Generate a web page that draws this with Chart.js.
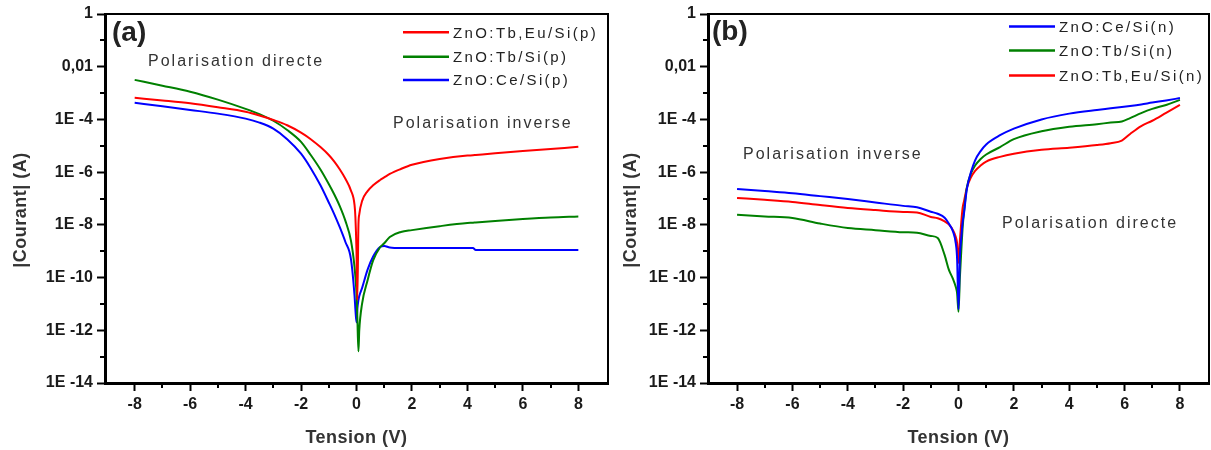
<!DOCTYPE html>
<html>
<head>
<meta charset="utf-8">
<script src="https://cdn.jsdelivr.net/npm/chart.js@4.4.1/dist/chart.umd.min.js"></script>
<style>
  body { margin: 0; background: #fff; width: 1211px; height: 450px; overflow: hidden; position: relative; }
  .box { position: absolute; top: 0; height: 450px; }
  #boxA { left: 0; width: 612px; }
  #boxB { left: 612px; width: 599px; }
</style>
</head>
<body>
<div class="box" id="boxA"><canvas id="chartA"></canvas></div>
<div class="box" id="boxB"><canvas id="chartB"></canvas></div>
<script>
"use strict";
// panel (a) : Si(p) substrates, tension in V
let voltA = [-8, -7, -6, -5, -4, -3.5, -3, -2.5, -2, -1.65, -1.3, -1, -0.8, -0.6, -0.4, -0.2, -0.07, -0.04, 0, 0.03, 0.07, 0.1, 0.2, 0.4, 0.6, 0.85, 1, 1.2, 1.6, 2, 3, 4, 4.2, 4.3, 5, 6, 7, 8];
// log10 |I| (A)
let tbEuA = [-3.18, -3.28, -3.39, -3.54, -3.71, -3.85, -4.02, -4.22, -4.5, -4.75, -5.05, -5.35, -5.6, -5.9, -6.25, -6.7, -7.25, -7.7, -9.0, -10.85, -8.0, -7.6, -7.1, -6.72, -6.5, -6.3, -6.2, -6.07, -5.88, -5.72, -5.5, -5.37, -5.36, -5.35, -5.28, -5.2, -5.12, -5.04];
let tbA = [-2.5, -2.72, -2.95, -3.25, -3.6, -3.8, -4.05, -4.4, -4.85, -5.35, -5.9, -6.45, -6.85, -7.3, -7.85, -8.6, -9.6, -9.98, -10.6, -11.5, -12.8, -12.0, -11.0, -10.1, -9.35, -8.85, -8.7, -8.46, -8.27, -8.2, -8.05, -7.93, -7.92, -7.91, -7.85, -7.78, -7.72, -7.68];
let ceA = [-3.37, -3.5, -3.64, -3.78, -3.97, -4.12, -4.35, -4.75, -5.3, -5.85, -6.5, -7.15, -7.6, -8.1, -8.65, -9.3, -10.7, -11.2, -11.7, -11.2, -10.85, -10.7, -10.4, -9.7, -9.2, -8.84, -8.8, -8.86, -8.88, -8.88, -8.88, -8.88, -8.88, -8.95, -8.95, -8.95, -8.95, -8.95];

// panel (b) : Si(n) substrates
let voltB = [-8, -7, -6, -5, -4, -3, -2, -1.5, -1, -0.75, -0.5, -0.35, -0.2, -0.1, -0.05, 0, 0.05, 0.1, 0.15, 0.2, 0.3, 0.45, 0.6, 0.8, 1, 1.5, 2, 3, 4, 5, 5.5, 5.9, 6.2, 6.6, 7, 7.5, 8];
let ceB = [-6.64, -6.72, -6.8, -6.91, -7.02, -7.15, -7.28, -7.33, -7.5, -7.58, -7.73, -7.95, -8.25, -8.69, -9.3, -11.2, -9.2, -8.5, -7.9, -7.55, -6.65, -6.0, -5.55, -5.2, -4.95, -4.6, -4.35, -4.0, -3.78, -3.64, -3.58, -3.53, -3.49, -3.43, -3.36, -3.28, -3.19];
let tbB = [-7.62, -7.68, -7.74, -7.95, -8.12, -8.2, -8.28, -8.3, -8.42, -8.5, -9.15, -9.7, -10.05, -10.35, -10.6, -11.3, -10.0, -9.0, -8.1, -7.5, -6.6, -6.05, -5.75, -5.5, -5.33, -5.05, -4.75, -4.45, -4.28, -4.18, -4.12, -4.08, -3.95, -3.76, -3.6, -3.45, -3.26];
let tbEuB = [-6.98, -7.05, -7.13, -7.25, -7.36, -7.44, -7.51, -7.53, -7.7, -7.75, -7.87, -7.98, -8.2, -8.45, -8.7, -9.45, -8.6, -7.9, -7.35, -7.1, -6.6, -6.2, -5.95, -5.75, -5.6, -5.42, -5.3, -5.15, -5.07, -4.97, -4.9, -4.8, -4.55, -4.25, -4.05, -3.75, -3.45];

let namesA = ["ZnO:Tb,Eu/Si(p)", "ZnO:Tb/Si(p)", "ZnO:Ce/Si(p)"];
let namesB = ["ZnO:Ce/Si(n)", "ZnO:Tb/Si(n)", "ZnO:Tb,Eu/Si(n)"];
let colorsA = ["#ff0000", "#008000", "#0000ff"];
let colorsB = ["#0000ff", "#008000", "#ff0000"];

// ticks
let xTicks = [-8, -6, -4, -2, 0, 2, 4, 6, 8];
let xMinor = [-7, -5, -3, -1, 1, 3, 5, 7];
let yTickExps = [0, -2, -4, -6, -8, -10, -12, -14];
let yTickLabels = ["1", "0,01", "1E -4", "1E -6", "1E -8", "1E -10", "1E -12", "1E -14"];
let yMinorExps = [-1, -3, -5, -7, -9, -11, -13];

let FAM = "'Liberation Sans', Arial, sans-serif";
let tickFont = { family: FAM, size: 16, weight: "bold" };

function drawText(ctx, txt, x, y, font, color, spacing, align) {
  ctx.save();
  ctx.font = font;
  ctx.fillStyle = color;
  ctx.letterSpacing = spacing + "px";
  ctx.textAlign = align || "left";
  ctx.textBaseline = "alphabetic";
  ctx.fillText(txt, x, y);
  ctx.restore();
}

//frame, minor ticks, legend, labels
let decorPlugin = {
  id: "decor",
  afterDraw(chart, args, opts) {
    let ctx = chart.ctx;
    let a = chart.chartArea;
    let sx = chart.scales.x;
    let sy = chart.scales.y;
    ctx.save();
    ctx.strokeStyle = "#000";
    ctx.lineWidth = 2;
    ctx.beginPath();
    ctx.moveTo(a.left, a.top);
    ctx.lineTo(a.right, a.top);
    ctx.lineTo(a.right, a.bottom + 1);
    ctx.stroke();
    ctx.beginPath();
    xMinor.forEach((v) => {
      let px = Math.round(sx.getPixelForValue(v));
      ctx.moveTo(px, a.bottom);
      ctx.lineTo(px, a.bottom + 5);
    });
    yMinorExps.forEach((e) => {
      let py = Math.round(sy.getPixelForValue(Math.pow(10, e)));
      ctx.moveTo(a.left - 5, py);
      ctx.lineTo(a.left, py);
    });
    ctx.stroke();
    ctx.restore();

    opts.texts.forEach((t) => drawText(ctx, t.t, t.x, t.y, t.font, t.color, t.sp));

    // legend
    let lg = opts.legend;
    chart.data.datasets.forEach((ds, i) => {
      let y = lg.ys[i];
      ctx.save();
      ctx.strokeStyle = ds.borderColor;
      ctx.lineWidth = 2.5;
      ctx.beginPath();
      ctx.moveTo(lg.x1, y);
      ctx.lineTo(lg.x2, y);
      ctx.stroke();
      ctx.restore();
      drawText(ctx, ds.label, lg.tx, y + 5.4, "15px " + FAM, "#222", 2.4);
    });

    // axis titles
    let cx = (a.left + a.right) / 2;
    drawText(ctx, "Tension (V)", cx, 443, "bold 18px " + FAM, "#333", 0.5, "center");
    ctx.save();
    ctx.translate(opts.yTitleX, 210);
    ctx.rotate(-Math.PI / 2);
    drawText(ctx, "|Courant| (A)", 0, 6, "bold 18px " + FAM, "#333", 0.5, "center");
    ctx.restore();
  },
};

function buildChart(canvasId, volts, logSeries, names, colors, xMax, yWidth, padRight, decor) {
  let datasets = logSeries.map((logs, i) => ({
    label: names[i],
    data: volts.map((v, k) => ({ x: v, y: Math.pow(10, logs[k]) })),
    borderColor: colors[i],
    borderWidth: 2,
    pointRadius: 0,
    fill: false,
    cubicInterpolationMode: "monotone",
  }));
  return new Chart(document.getElementById(canvasId), {
    type: "line",
    data: { datasets: datasets },
    options: {
      responsive: true,
      maintainAspectRatio: false,
      animation: false,
      layout: { padding: { left: 0, right: padRight, top: 14, bottom: 0 } },
      plugins: {
        legend: { display: false },
        tooltip: { enabled: false },
        decor: decor,
      },
      scales: {
        x: {
          type: "linear",
          min: -xMax,
          max: xMax,
          afterBuildTicks: (s) => {
            s.ticks = xTicks.map((v) => ({ value: v }));
          },
          afterFit: (s) => {
            s.height = 67;
          },
          ticks: {
            autoSkip: false,
            maxRotation: 0,
            padding: 4,
            color: "#1a1a1a",
            font: tickFont,
            callback: (v) => String(v),
          },
          grid: { drawOnChartArea: false, drawTicks: true, tickLength: 8, tickWidth: 2, tickColor: "#000" },
          border: { display: true, color: "#000", width: 3 },
        },
        y: {
          type: "logarithmic",
          min: 1e-14,
          max: 1,
          afterBuildTicks: (s) => {
            s.ticks = yTickExps.map((e) => ({ value: Math.pow(10, e) }));
          },
          afterFit: (s) => {
            s.width = yWidth;
          },
          ticks: {
            autoSkip: false,
            padding: 4,
            color: "#1a1a1a",
            font: tickFont,
            callback: (v) => {
              let i = yTickExps.indexOf(Math.round(Math.log10(v)));
              return i >= 0 ? yTickLabels[i] : "";
            },
          },
          grid: { drawOnChartArea: false, drawTicks: true, tickLength: 8, tickWidth: 2, tickColor: "#000" },
          border: { display: true, color: "#000", width: 3 },
        },
      },
    },
    plugins: [decorPlugin],
  });
}

let annFont = "16px " + FAM;
let chartA = buildChart("chartA", voltA, [tbEuA, tbA, ceA], namesA, colorsA, 9.07, 105, 4, {
  texts: [
    { t: "(a)", x: 112, y: 41, font: "bold 28px " + FAM, color: "#222", sp: 0 },
    { t: "Polarisation directe", x: 148, y: 66, font: annFont, color: "#333", sp: 2 },
    { t: "Polarisation inverse", x: 393, y: 127.5, font: annFont, color: "#333", sp: 2 },
  ],
  legend: { x1: 403, x2: 449, tx: 453, ys: [32.3, 56.7, 80] },
  yTitleX: 20,
});
let chartB = buildChart("chartB", voltB, [ceB, tbB, tbEuB], namesB, colorsB, 9.05, 96, 2, {
  texts: [
    { t: "(b)", x: 100, y: 40, font: "bold 28px " + FAM, color: "#222", sp: 0 },
    { t: "Polarisation inverse", x: 131, y: 159, font: annFont, color: "#333", sp: 2 },
    { t: "Polarisation directe", x: 390, y: 228, font: annFont, color: "#333", sp: 2 },
  ],
  legend: { x1: 397, x2: 443, tx: 447, ys: [26.5, 50.5, 75.5] },
  yTitleX: 18,
});
</script>
</body>
</html>
